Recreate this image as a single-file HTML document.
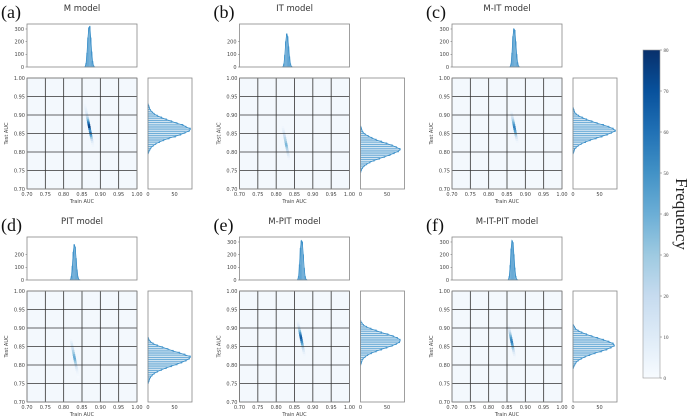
<!DOCTYPE html>
<html><head><meta charset="utf-8"><style>
body{margin:0;background:#fff;}
svg{display:block;}
</style></head><body>
<svg id="fig" width="691" height="417" viewBox="0 0 691 417" xmlns="http://www.w3.org/2000/svg" font-family="DejaVu Sans, Liberation Sans, sans-serif"></svg>
<script>
const titles = ["M model","IT model","M-IT model","PIT model","M-PIT model","M-IT-PIT model"];
const letters = ["(a)","(b)","(c)","(d)","(e)","(f)"];
const mainTicks = [0.70,0.75,0.80,0.85,0.90,0.95,1.00];
const topTickSets = [[0,100,200,300],[0,100,200],[0,100,200,300],[0,100,200],[0,100,200,300],[0,100,200,300]];
const rightTicks = [0,50];
const cbTicks = [0,10,20,30,40,50,60,70,80];
// top histograms: train AUC, bins of 0.0025 starting at topLo
const topLo = [0.8575,0.8175,0.8575,0.8175,0.8575,0.8525];
const topA = [4,30,110,230,310,320,230,120,45,10,2];
const topB = [3,25,95,200,262,240,160,80,25,5,1];
const topC = [3,25,110,240,300,290,200,100,35,8,1];
const topD = [4,30,110,220,280,260,170,80,25,5,1];
const topE = [3,28,120,250,310,300,200,95,30,6,1];
const topF = [3,28,115,245,310,295,200,95,30,6,1];
// right histograms: test AUC, bins of 0.005 starting at rightLo
const rightLo = [0.795,0.745,0.795,0.75,0.80,0.79];
const rightA = [1,2,4,6,10,15,22,30,40,52,62,70,78,80,72,66,55,45,35,26,18,12,8,5,3,2,1];
const rightB = [1,2,4,7,12,18,26,36,46,56,64,72,75,68,60,50,40,30,22,15,9,5,3,2,1];
const rightC = [1,2,3,6,10,16,24,33,44,55,65,73,80,76,68,58,46,36,26,18,11,6,3,2,1];
const rightD = [1,2,3,5,8,12,18,26,35,45,55,64,72,78,80,70,60,48,38,28,18,10,5,2,1];
const rightE = [1,2,3,5,9,14,21,30,40,50,60,68,74,75,70,62,52,40,30,20,12,6,3,1];
const rightF = [1,2,4,6,10,16,23,32,42,54,64,72,78,76,68,58,47,36,26,17,10,5,3,1];
// 2D histogram streaks: test AUC rows (step 0.005) from heatTop downward, train centre per row, counts
const heatTop = [0.925,0.865,0.905,0.865,0.915,0.905];
const heatXA = [0.858,0.859,0.860,0.861,0.862,0.863,0.864,0.865,0.866,0.867,0.868,0.869,0.870,0.871,0.872,0.873,0.874,0.875,0.876,0.877,0.878,0.879,0.880];
const heatVA = [3,4,6,8,10,14,18,26,36,50,62,72,76,58,48,60,52,40,28,18,10,5,3];
const heatXB = [0.818,0.819,0.820,0.821,0.822,0.823,0.824,0.825,0.826,0.827,0.828,0.829,0.830,0.831,0.832,0.833,0.834,0.835];
const heatVB = [3,5,8,12,16,20,24,26,30,36,38,30,24,20,14,10,6,3];
const heatXC = [0.862,0.863,0.864,0.865,0.866,0.867,0.868,0.869,0.870,0.871,0.872,0.873,0.874,0.875,0.876,0.877,0.878];
const heatVC = [4,8,12,18,26,34,42,50,56,52,46,40,30,20,12,6,3];
const heatXD = [0.820,0.821,0.822,0.823,0.824,0.825,0.826,0.827,0.828,0.829,0.830,0.831,0.832,0.833,0.834,0.835,0.836,0.837,0.838,0.839,0.840];
const heatVD = [3,6,10,14,16,20,26,30,36,40,42,36,30,24,18,12,8,5,3,2,1];
const heatXE = [0.859,0.860,0.861,0.862,0.863,0.864,0.865,0.866,0.867,0.868,0.869,0.870,0.871,0.872,0.873,0.874,0.875,0.876,0.877,0.878];
const heatVE = [3,6,10,16,24,34,46,56,64,66,60,52,44,34,24,16,10,6,3,2];
const heatXF = [0.854,0.855,0.856,0.857,0.858,0.859,0.860,0.861,0.862,0.863,0.864,0.865,0.866,0.867,0.868,0.869,0.870,0.871,0.872];
const heatVF = [3,6,10,16,24,32,40,48,54,56,50,42,34,24,16,10,6,3,2];

const tops=[topA,topB,topC,topD,topE,topF];
const rights=[rightA,rightB,rightC,rightD,rightE,rightF];
const hxs=[heatXA,heatXB,heatXC,heatXD,heatXE,heatXF];
const hvs=[heatVA,heatVB,heatVC,heatVD,heatVE,heatVF];

const NS="http://www.w3.org/2000/svg";
const svg=document.getElementById('fig');
const SERIF='font-family:"Liberation Serif",serif';
function el(tag,attrs,parent,txt){const e=document.createElementNS(NS,tag);for(const k in attrs)e.setAttribute(k,attrs[k]);if(txt!==undefined)e.textContent=txt;(parent||svg).appendChild(e);return e;}
const stops=["#f7fbff","#deebf7","#c6dbef","#9ecae1","#6baed6","#4292c6","#2171b5","#08519c","#08306b"];
function hex(h){return [1,3,5].map(i=>parseInt(h.substr(i,2),16));}
function blues(t){t=Math.max(0,Math.min(1,t));const p=t*8,i=Math.min(7,Math.floor(p)),f=p-i;const a=hex(stops[i]),b=hex(stops[i+1]);return "rgb("+a.map((v,k)=>Math.round(v+(b[k]-v)*f)).join(",")+")";}

const oxs=[0,212.5,425], oys=[0,213];
for(let p=0;p<6;p++){
  const ox=oxs[p%3], oy=oys[Math.floor(p/3)];
  const g=el('g',{},svg);
  
  
  const mx0=27+ox, mx1=137+ox, my0=78+oy, my1=189+oy;
  const X=v=>mx0+(v-0.7)/0.3*(mx1-mx0);
  const Y=v=>my1-(v-0.7)/0.3*(my1-my0);
  let t=el('text',{x:1+ox,y:18+oy,'font-size':18,style:SERIF,fill:'#111'},g,letters[p]);
  
  t=el('text',{x:(mx0+mx1)/2,y:11+oy,'font-size':8.5,'text-anchor':'middle',fill:'#333'},g,titles[p]);
  
  const bg=el('rect',{x:mx0,y:my0,width:mx1-mx0,height:my1-my0,fill:'#f3f8fd'},g);
  
  const step=0.005, top=heatTop[p];
  hxs[p].forEach((hx,i)=>{const yv=top-i*step;
    const c=el('rect',{x:X(hx-0.0035),y:Y(yv+step),width:X(hx+0.0035)-X(hx-0.0035),height:Y(yv)-Y(yv+step)+0.3,fill:blues(hvs[p][i]/80)},g);
    });
  mainTicks.forEach(v=>{
    el('line',{x1:X(v),x2:X(v),y1:my0,y2:my1,stroke:'#333','stroke-width':0.8},g);
    el('line',{x1:mx0,x2:mx1,y1:Y(v),y2:Y(v),stroke:'#333','stroke-width':0.8},g);
    el('text',{x:X(v),y:my1+7,'font-size':5,'text-anchor':'middle',fill:'#444'},g,v.toFixed(2));
    el('text',{x:mx0-2,y:Y(v)+1.8,'font-size':5,'text-anchor':'end',fill:'#444'},g,v.toFixed(2));
  });
  el('rect',{x:mx0,y:my0,width:mx1-mx0,height:my1-my0,fill:'none',stroke:'#888','stroke-width':0.8},g);
  t=el('text',{x:(mx0+mx1)/2,y:my1+14,'font-size':5,'text-anchor':'middle',fill:'#444'},g,'Train AUC');
  
  t=el('text',{x:0,y:0,'font-size':5,'text-anchor':'middle',fill:'#444',transform:`translate(${8+ox},${(my0+my1)/2}) rotate(-90)`},g,'Test AUC');
  
  const ty0=24+oy, ty1=67+oy;
  const TY=v=>ty1-v*(12.67/100);
  const tb=0.0025;
  let pts=[];
  tops[p].forEach((c,i)=>{const xv=topLo[p]+i*tb;
    const r=el('rect',{x:X(xv),y:TY(c),width:X(xv+tb)-X(xv),height:ty1-TY(c),fill:'rgba(66,146,198,0.35)',stroke:'#4f9bd0','stroke-width':0.5},g);
    
    pts.push(X(xv+tb/2)+','+TY(c));});
  el('polyline',{points:pts.join(' '),fill:'none',stroke:'#3a8fc8','stroke-width':0.8},g);
  el('rect',{x:mx0,y:ty0,width:mx1-mx0,height:ty1-ty0,fill:'none',stroke:'#888','stroke-width':0.8},g);
  topTickSets[p].forEach(v=>{el('text',{x:mx0-3,y:TY(v)+1.8,'font-size':5,'text-anchor':'end',fill:'#444'},g,v);
    el('line',{x1:mx0-1.5,x2:mx0,y1:TY(v),y2:TY(v),stroke:'#666','stroke-width':0.5},g);});
  const rx0=148+ox, rx1=192+ox;
  const RX=v=>rx0+v*0.53;
  const rb=0.005; pts=[];
  rights[p].forEach((c,i)=>{const yv=rightLo[p]+i*rb;
    const r=el('rect',{x:rx0,y:Y(yv+rb),width:RX(c)-rx0,height:Y(yv)-Y(yv+rb),fill:'rgba(66,146,198,0.25)',stroke:'#4f9bd0','stroke-width':0.5},g);
    
    pts.push(RX(c)+','+Y(yv+rb/2));});
  el('polyline',{points:pts.join(' '),fill:'none',stroke:'#3a8fc8','stroke-width':0.8},g);
  el('rect',{x:rx0,y:my0,width:rx1-rx0,height:my1-my0,fill:'none',stroke:'#888','stroke-width':0.8},g);
  rightTicks.forEach(v=>{el('text',{x:RX(v),y:my1+7,'font-size':5,'text-anchor':'middle',fill:'#444'},g,v);});
}
const cg=el('g',{},svg);

const defs=el('defs',{},svg);
const lg=el('linearGradient',{id:'cb',x1:0,y1:1,x2:0,y2:0},defs);
stops.forEach((s,i)=>el('stop',{offset:i/8,'stop-color':s},lg));
const cy0=50, cy1=378;
el('rect',{x:643,y:cy0,width:17,height:cy1-cy0,fill:'url(#cb)',stroke:'#999','stroke-width':0.6},cg);
cbTicks.forEach(v=>{const y=cy1-v/80*(cy1-cy0);
  el('line',{x1:660,x2:662,y1:y,y2:y,stroke:'#666','stroke-width':0.5},cg);
  el('text',{x:663.5,y:y+1.8,'font-size':5,style:SERIF,fill:'#444'},cg,v);});
const ft=el('text',{x:0,y:0,'font-size':17,style:SERIF,'text-anchor':'middle',fill:'#222',transform:'translate(676,214) rotate(90)'},cg,'Frequency');


</script>
</body></html>
